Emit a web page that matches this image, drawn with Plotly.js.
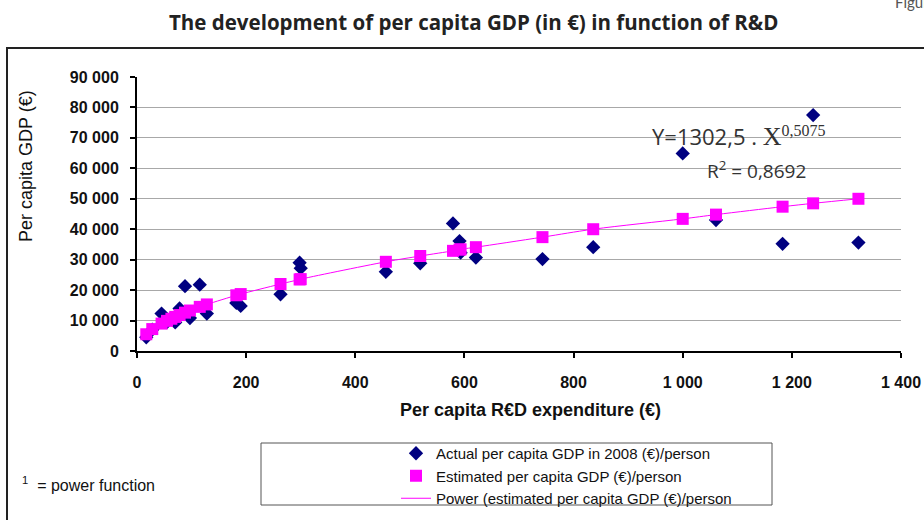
<!DOCTYPE html>
<html>
<head>
<meta charset="utf-8">
<script src="https://cdn.plot.ly/plotly-3.0.1.min.js"></script>
<style>html,body{margin:0;padding:0;background:#fff;}#chart{width:924px;height:520px;}</style>
</head>
<body>
<div id="chart"></div>
<script>
// R&D expenditure per capita (€)
const rdExpenditure = [17, 28, 45, 55, 63, 70, 78, 88, 97, 115, 128, 182, 190, 263, 298, 300, 456, 519, 579, 591, 593, 621, 743, 836, 1000, 1061, 1183, 1239, 1322];
// Actual per capita GDP 2008 (€)
const actualGDP = [4500, 7000, 12300, 9500, 10800, 9400, 14000, 21300, 10800, 21800, 12300, 15800, 14800, 18600, 29000, 27200, 26000, 28800, 41900, 36100, 32300, 30700, 30200, 34100, 64900, 43000, 35200, 77500, 35600];
// Estimated per capita GDP (€)
const estimatedGDP = [5500, 7200, 9000, 9900, 10600, 11200, 11800, 12600, 13300, 14500, 15300, 18300, 18700, 22000, 23500, 23600, 29300, 31200, 32900, 33300, 33400, 34100, 37400, 40000, 43400, 44800, 47400, 48500, 50000];

const yTicks = [0, 10000, 20000, 30000, 40000, 50000, 60000, 70000, 80000, 90000];
const yTickText = ['0', '10 000', '20 000', '30 000', '40 000', '50 000', '60 000', '70 000', '80 000', '90 000'];
const xTicks = [0, 200, 400, 600, 800, 1000, 1200, 1400];
const xTickText = ['0', '200', '400', '600', '800', '1 000', '1 200', '1 400'];

const L = 137, R = 901, T = 77, B = 351;
const px = p => (p - L) / (R - L);
const py = p => (B - p) / (B - T);

const traces = [
  {
    type: 'scatter', mode: 'markers', name: 'Actual per capita GDP in 2008 (€)/person',
    x: rdExpenditure, y: actualGDP, legendrank: 1,
    marker: {symbol: 'diamond', size: 11, color: '#000080'}
  },
  {
    type: 'scatter', mode: 'lines', name: 'Power (estimated per capita GDP (€)/person',
    x: rdExpenditure, y: estimatedGDP, legendrank: 3,
    line: {color: '#ff00ff', width: 1, shape: 'spline'}
  },
  {
    type: 'scatter', mode: 'markers', name: 'Estimated per capita GDP (€)/person',
    x: rdExpenditure, y: estimatedGDP, legendrank: 2,
    marker: {symbol: 'square', size: 12, color: '#ff00ff'}
  }
];

const layout = {
  width: 924, height: 520,
  margin: {l: L, r: 924 - R, t: T, b: 520 - B, pad: 0, autoexpand: false},
  paper_bgcolor: '#fff', plot_bgcolor: '#fff',
  showlegend: true,
  legend: {
    x: px(396), y: py(437), xanchor: 'left', yanchor: 'top',
    bgcolor: 'rgba(0,0,0,0)', borderwidth: 0,
    font: {family: 'Liberation Sans, Arial', size: 15, color: '#111'},
    tracegroupgap: 0, itemwidth: 30
  },
  xaxis: {
    range: [0, 1400], tickvals: xTicks, ticktext: xTickText,
    showgrid: false, zeroline: false,
    showline: true, linecolor: '#000', linewidth: 2,
    ticks: 'outside', ticklen: 5, tickwidth: 2, tickcolor: '#000',
    tickfont: {family: 'Liberation Sans, Arial', size: 16, color: '#111', weight: 'bold'},
    ticklabelstandoff: 11
  },
  yaxis: {
    range: [0, 90000], tickvals: yTicks, ticktext: yTickText,
    showgrid: true, gridcolor: '#a8a8a8', gridwidth: 1, zeroline: false,
    showline: true, linecolor: '#000', linewidth: 2,
    ticks: 'outside', ticklen: 5, tickwidth: 2, tickcolor: '#000',
    tickfont: {family: 'Liberation Sans, Arial', size: 16, color: '#111', weight: 'bold'},
    ticklabelstandoff: 8
  },
  shapes: [
    {type: 'rect', xref: 'paper', yref: 'paper', x0: px(7), x1: px(935), y0: py(535), y1: py(48),
     line: {color: '#222', width: 2}, fillcolor: 'rgba(0,0,0,0)', layer: 'below'},
    {type: 'rect', xref: 'paper', yref: 'paper', x0: px(261), x1: px(772), y0: py(505), y1: py(443),
     line: {color: '#555', width: 1}, fillcolor: 'rgba(0,0,0,0)'}
  ],
  annotations: [
    {xref: 'paper', yref: 'paper', x: px(473), y: py(22), xanchor: 'center', yanchor: 'middle', showarrow: false,
     text: 'The development of per capita GDP (in €) in function of R&D',
     font: {family: 'Open Sans', size: 20.5, color: '#222', weight: 'bold'}},
    {xref: 'paper', yref: 'paper', x: px(893), y: py(2), xanchor: 'left', yanchor: 'middle', showarrow: false,
     text: 'Figure 3', font: {family: 'Lato', size: 15, color: '#555'}},
    {xref: 'paper', yref: 'paper', x: px(26), y: py(166), xanchor: 'center', yanchor: 'middle', showarrow: false,
     textangle: -90, text: 'Per capita GDP (€)',
     font: {family: 'Liberation Sans, Arial', size: 18, color: '#111'}},
    {xref: 'paper', yref: 'paper', x: px(530), y: py(410), xanchor: 'center', yanchor: 'middle', showarrow: false,
     text: 'Per capita R€D expenditure (€)',
     font: {family: 'Liberation Sans, Arial', size: 18, color: '#111', weight: 'bold'}},
    {xref: 'paper', yref: 'paper', x: px(650), y: py(136), xanchor: 'left', yanchor: 'middle', showarrow: false,
     text: 'Y=1302,5 . <span style="font-family:Liberation Serif;font-size:26px">X</span><sup><span style="font-family:Liberation Serif;font-size:16px">0,5075</span></sup>',
     font: {family: 'Open Sans', size: 22, color: '#333'}},
    {xref: 'paper', yref: 'paper', x: px(705), y: py(170), xanchor: 'left', yanchor: 'middle', showarrow: false,
     text: 'R<sup>2</sup> = 0,8692',
     font: {family: 'Open Sans', size: 19, color: '#333'}},
    {xref: 'paper', yref: 'paper', x: px(20), y: py(484), xanchor: 'left', yanchor: 'middle', showarrow: false,
     text: '<sup>1</sup>  = power function',
     font: {family: 'Liberation Sans, Arial', size: 16, color: '#111'}}
  ]
};

Plotly.newPlot('chart', traces, layout, {displayModeBar: false, staticPlot: true});
</script>
</body>
</html>
